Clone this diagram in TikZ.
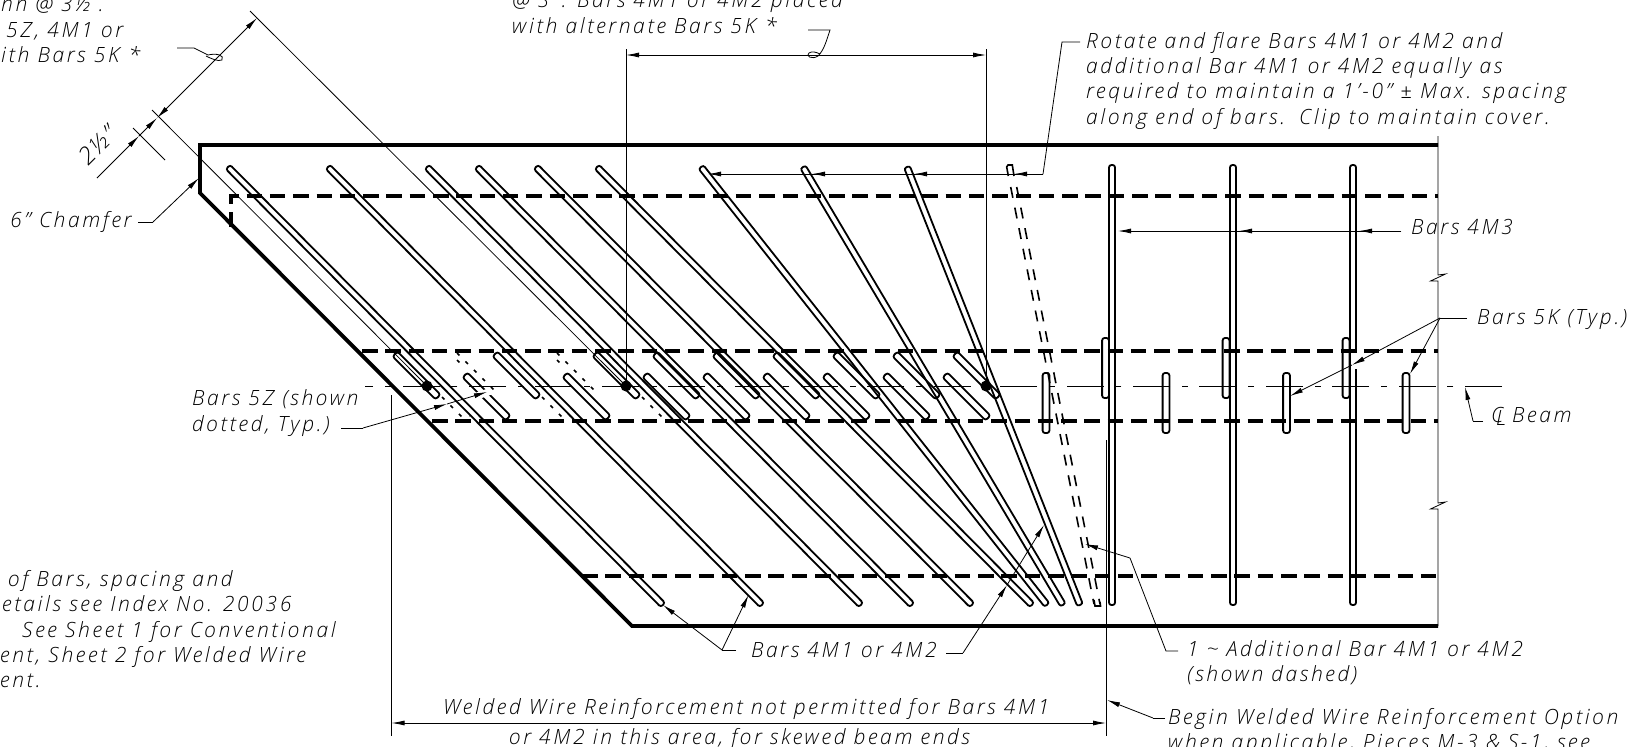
\documentclass[tikz,border=0pt]{standalone}
\usepackage{fontspec}
\setmainfont{Open Sans}[UprightFont=* Light, ItalicFont=* Light Italic, LetterSpace=12.7]
\usetikzlibrary{arrows.meta,calc}

\newcommand{\rebar}[6][]{%
  \pgfmathsetmacro{\barang}{atan2(#4-#6,#5-#3)}
  \pgfmathsetmacro{\barlen}{veclen(#5-#3,#6-#4)}
  \draw [rebar,#1,shift={(#3,#4)},rotate=\barang] (0,-#2) -- (\barlen,-#2) -- (\barlen,#2) -- (0,#2) -- cycle;
}

\begin{document}
\begin{tikzpicture}[
    x=1pt, y=-1pt,
    rebar/.style={line width=1.8pt, rounded corners=2.4pt},
    heavy/.style={line width=3.8pt},
    hidden/.style={line width=3.4pt, dash pattern=on 15.5pt off 7.8pt},
    dotbar/.style={line width=1.7pt, dash pattern=on 3.5pt off 8.5pt},
    addbar/.style={line width=1.6pt, dash pattern=on 11pt off 10pt},
    thin line/.style={line width=0.8pt},
    lead/.style={line width=0.8pt, -{Latex[length=13pt,width=5pt]}},
    both/.style={line width=0.8pt, {Latex[length=13pt,width=5pt]}-{Latex[length=13pt,width=5pt]}},
    note/.style={anchor=base west, inner sep=0pt, font=\fontsize{21}{25.4}\selectfont\itshape}
]
\useasboundingbox (0,0) rectangle (1636,747);

% Beam outline
\draw [heavy] (1438,145) -- (200,145) -- (200,193) -- (632,626) -- (1438,626);
\draw [thin line] (1438,136) -- (1438,275) -- (1445.5,274) -- (1430.5,281) -- (1438,281)
    -- (1438,503) -- (1445.5,502) -- (1430.5,509) -- (1438,509) -- (1438,626);

% Dashed strands
\draw [hidden] (231,227) -- (231,196) -- (1438,196);
\draw [hidden] (362,351) -- (1438,351);
\draw [hidden] (432,421) -- (1438,421);
\draw [hidden] (582,576) -- (1438,576);

% Center line
\draw [thin line, dash pattern=on 37pt off 11.7pt on 6pt off 11.7pt] (1502,386) -- (365,386);

% Bars 4M1 or 4M2
\foreach \xtop/\xbot in {228/663,328/762,427/861,477/912,536/972,597/1032,701/1047,803/1063,907/1080}
  \rebar{3}{\xtop}{167}{\xbot}{605};

% Additional bar
\draw [line width=1.6pt] (1008.3,176) -- (1006.7,167) -- (1008,165) -- (1012.3,165) -- (1014,176);
\draw [addbar] (1010.7,187) -- (1094,604);
\draw [addbar] (1016.7,187) -- (1100,604);
\draw [line width=1.6pt] (1094,600) -- (1095,606) -- (1100.5,606) -- (1100,602);

% Bars 4M3
\foreach \xpos in {1112,1233,1353}
  \rebar{3}{\xpos}{165}{\xpos}{605};

% Bars 5K
\foreach \xpos in {395,495,595,655,715,775,835,895,955}
  \rebar{3.4}{\xpos}{354}{\xpos+43}{397};
\foreach \xpos in {465,565,645,705,765,825,885,945}
  \rebar{3.4}{\xpos}{375}{\xpos+43}{418};
\foreach \xpos in {1105.5,1226,1346}
  \rebar{3.4}{\xpos}{338}{\xpos}{398};
\foreach \xpos in {1046,1166,1286.5,1406}
  \rebar{3.4}{\xpos}{373}{\xpos}{433};

% Bars 5Z
\foreach \xoff in {0,100} {
  \draw [dotbar] (457+\xoff,353) -- (496+\xoff,392);
  \draw [dotbar] (457+\xoff,360) -- (463+\xoff,366);
}
\foreach \xoff in {0,100,200}
  \draw [dotbar] (442+\xoff,397) -- (462+\xoff,417) -- (470+\xoff,416);

% Breaks in the bars where leaders pass
\draw [white, line width=7pt] (477,396) -- (491,391);
\draw [white, line width=2.5pt] (1356.5,353) -- (1356.5,369);

% Dimension lines
\coordinate (extA) at (250,11);
\coordinate (extB) at (152,110);
\coordinate (extC) at (133,128);
\coordinate (dotA) at (427,386);
\coordinate (dotB) at (626,386);
\coordinate (dotC) at (986,386);
\coordinate (diagA) at (97,178);
\coordinate (diagB) at (139,136);
\coordinate (diagC) at (157,118);
\coordinate (diagD) at (257,18);
\draw [thin line] (extA) -- (dotB);
\draw [thin line] (extB) -- (dotA);
\draw [thin line] (extC) -- (165,160);
\draw [lead] (diagA) -- (diagB);
\draw [lead] (diagB) -- (diagC);
\draw [both] (diagC) -- (diagD);
\coordinate (topA) at (626,55);
\coordinate (topB) at (986,55);
\draw [both] (topA) -- (topB);
\draw [thin line] (626,49) -- (dotB);
\draw [thin line] (986,49) -- (dotC);
\foreach \dotname in {dotA,dotB,dotC}
  \fill (\dotname) circle (5.5pt);
\coordinate (weldA) at (391.5,723);
\coordinate (weldB) at (1106,723);
\draw [both] (weldA) -- (weldB);
\draw [thin line] (391.5,395) -- (391.5,736);
\draw [thin line] (1106,440) -- (1106,736);

% Leaders
\draw [thin line] (177,48) -- (194,48) -- (208,55) .. controls (216,53) and (225,55) .. (222,60) .. controls (218,62) and (210,58) .. (206,56);
\draw [thin line] (808,30) -- (830,30) .. controls (826,42) and (824,50) .. (818,56) .. controls (812,60) and (805,56) .. (809,53) .. controls (812,51) and (816,52) .. (820,54);

\coordinate (rotkink) at (1043,174);
\draw [thin line] (1080,42) -- (1062,42) -- (rotkink);
\foreach \xtip in {708,812,914,1014}
  \draw [lead] (rotkink) -- (\xtip,174);

\coordinate (m3from) at (1401,231);
\foreach \xtip in {1118,1239,1359}
  \draw [lead] (m3from) -- (\xtip,231);

\coordinate (chamkink) at (153,222);
\draw [thin line] (138,222) -- (chamkink);
\draw [lead] (chamkink) -- (199,178);

\coordinate (zkink) at (363,428);
\draw [thin line] (341,428) -- (zkink);
\draw [lead] (zkink) -- (447,404);
\draw [lead] (447,404) -- (487,392);

\coordinate (kkink) at (1440,318);
\draw [thin line] (1467,318) -- (kkink);
\draw [lead] (kkink) -- (1352,365);
\draw [lead] (1352,365) -- (1290,396);
\draw [lead] (kkink) -- (1410,374);

\coordinate (clkink) at (1473,421);
\draw [thin line] (1483,421) -- (clkink);
\draw [lead] (clkink) -- (1465,387);

\coordinate (mkinkA) at (722,650);
\draw [thin line] (736,650) -- (mkinkA);
\draw [lead] (mkinkA) -- (663,605);
\draw [lead] (mkinkA) -- (748.5,595);
\coordinate (mkinkB) at (963,653);
\draw [thin line] (946,653) -- (mkinkB);
\draw [lead] (mkinkB) -- (1007,585);
\draw [lead] (1007,585) -- (1044,525);

\coordinate (addkink) at (1166,651);
\draw [thin line] (1178,651) -- (addkink) -- (1130,558);
\draw [lead] (1130,558) -- (1085,544);

\coordinate (begkink) at (1153,718);
\draw [thin line] (1165,718) -- (begkink);
\draw [lead] (begkink) -- (1107,700);

% Notes
\node [note] (topleft) at (1,11) {nn @ 3½ .};
\node [note] (topleftb) at (6,37) {5Z, 4M1 or};
\node [note] (topleftc) at (1,62) {ith Bars 5K\kern9pt *};
\node [note] (placed) at (512,7.6) {@ 3": Bars 4M1 or 4M2 placed};
\node [note] (placedb) at (512,33) {with alternate Bars 5K\kern9pt *};
\node [note] (rotate) at (1086,48) {Rotate and flare Bars 4M1 or 4M2 and};
\node [note] (rotateb) at (1086,73) {additional Bar 4M1 or 4M2 equally as};
\node [note] (rotatec) at (1086,98) {required to maintain a 1'-0" ± Max. spacing};
\node [note] (rotated) at (1086,124) {along end of bars.\kern14pt Clip to maintain cover.};
\node [note] (bars4m3) at (1411,234) {Bars 4M3};
\node [note] (bars5k) at (1477,324) {Bars 5K (Typ.)};
\node [note] (clbeam) at (1491,422) {\makebox[21pt][l]{\rlap{C}\kern5pt\raisebox{-3.5pt}{L}}Beam};
\node [note] (bars5z) at (192,405) {Bars 5Z (shown};
\node [note] (bars5zb) at (192,431) {dotted, Typ.)};
\node [note] (chamfer) at (10,227) {6" Chamfer};
\node [note, rotate=45, font=\fontsize{24}{25}\selectfont\itshape] (twohalf) at (88,167) {2½"};
\node [note] (barsm) at (751,657) {Bars 4M1 or 4M2};
\node [note] (addbar) at (1187,656) {1 \textasciitilde{} Additional Bar 4M1 or 4M2};
\node [note] (addbarb) at (1187,681) {(shown dashed)};
\node [note] (noweld) at (443,714) {Welded Wire Reinforcement not permitted for Bars 4M1};
\node [note] (noweldb) at (509,744) {or 4M2 in this area, for skewed beam ends};
\node [note] (begin) at (1168,724) {Begin Welded Wire Reinforcement Option};
\node [note] (beginb) at (1168,749) {when applicable, Pieces M-3 \& S-1, see};
\node [note] (leftb) at (8,586) {of Bars, spacing and};
\node [note] (leftc) at (2,611) {etails see Index No. 20036};
\node [note] (leftd) at (22,637) {See Sheet 1 for Conventional};
\node [note] (lefte) at (0,662) {ent, Sheet 2 for Welded Wire};
\node [note] (leftf) at (0,687) {ent.};

\end{tikzpicture}
\end{document}
